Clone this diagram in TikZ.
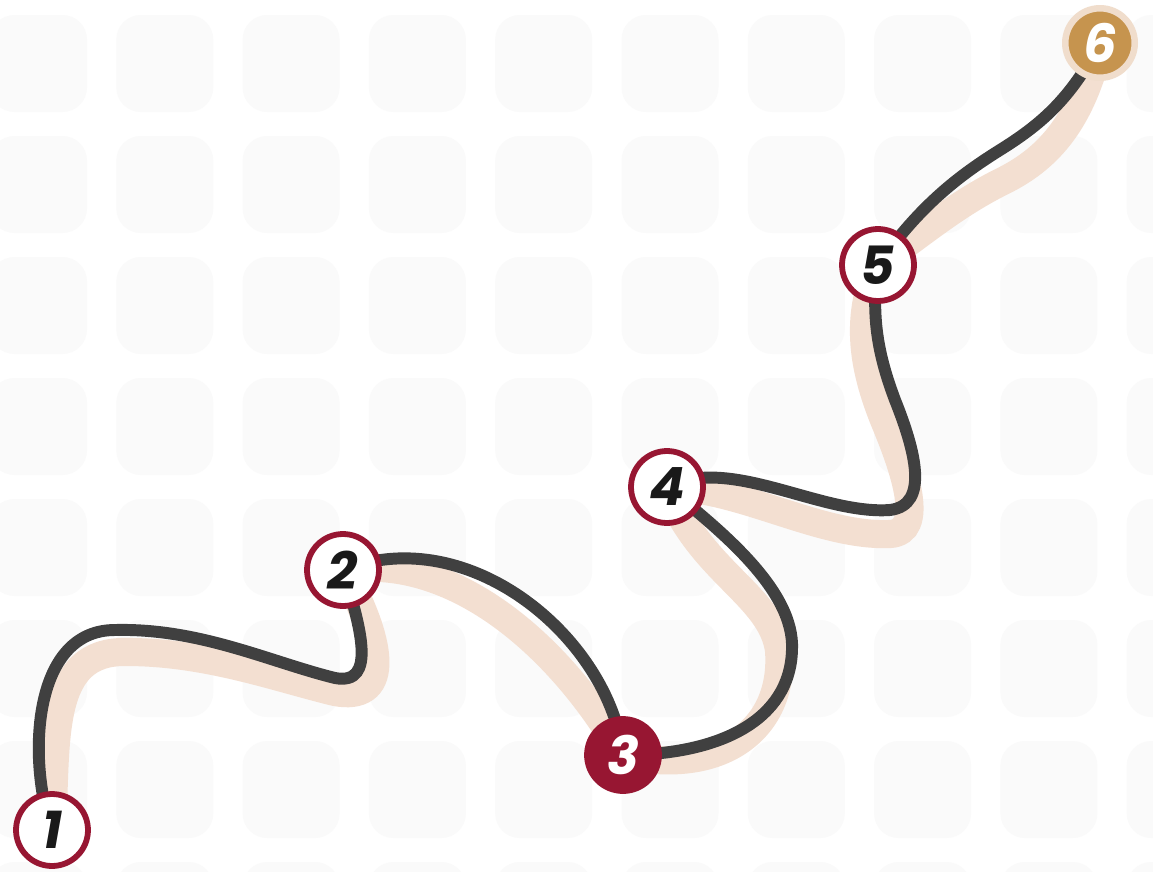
\documentclass[tikz,border=0pt]{standalone}
\usepackage{fontspec}
\newfontfamily\numfont{Poppins}
\usetikzlibrary{backgrounds}
\definecolor{crimson}{HTML}{971632}
\definecolor{trailGray}{HTML}{404040}
\definecolor{trailShade}{HTML}{F3DFD1}
\definecolor{goldTone}{HTML}{C6944E}
\definecolor{goldHalo}{HTML}{F0DDCC}
\definecolor{tileGray}{HTML}{FAFAFA}

\begin{document}
\begin{tikzpicture}[
    x=0.02cm, y=-0.02cm,
    milestone/.style={circle, draw=crimson, line width=3.3pt, fill=white, minimum size=1.44cm, inner sep=0pt,
      text=black!90, font=\numfont\bfseries\itshape\fontsize{30}{30}\selectfont},
    tile/.style={fill=tileGray, rounded corners=14pt},
    trail/.style={draw=trailGray, line width=6.8pt, line cap=round},
    shade/.style={draw=trailShade, line width=16pt, line cap=round}
  ]
  \useasboundingbox (0,0) rectangle (1153,872);

  % 节点在前景层，路径和底纹放到背景层
  \node[milestone] (n1) at (52,830) {1};
  \node[milestone] (n2) at (343,570) {2};
  \node[milestone, fill=crimson, text=white] (n3) at (623,755) {3};
  \node[milestone] (n4) at (667,487) {4};
  \node[milestone] (n5) at (878,265) {5};
  \node[milestone, draw=goldHalo, fill=goldTone, text=white, line width=3.7pt, minimum size=1.39cm] (n6) at (1100,43) {6};

  \begin{scope}[on background layer]
    \fill[white] (0,0) rectangle (1153,872);
    \foreach \i in {0,...,9}
      \foreach \j in {0,...,7}
        \fill[tile] ({-10+126.3*\i},{15+121*\j}) rectangle +(97,97);

    \draw[shade] (n1.center) .. controls (57,740) and (47,650) .. (127,652)
      .. controls (207,652) and (277,678) .. (335,692)
      .. controls (388,702) and (387,650) .. (n2.center)
      .. controls (450,552) and (558,642) .. (n3.center)
      .. controls (720,777) and (785,730) .. (779,650)
      .. controls (771,595) and (700,572) .. (n4.center)
      .. controls (740,487) and (820,537) .. (890,534)
      .. controls (926,532) and (905,470) .. (884,420)
      .. controls (864,370) and (854,320) .. (n5.center)
      .. controls (930,227) and (960,202) .. (1005,180)
      .. controls (1050,157) and (1082,120) .. (n6.center);

    \draw[trail] (n1.center) .. controls (28,765) and (30,630) .. (115,630)
      .. controls (200,628) and (270,662) .. (335,678)
      .. controls (378,686) and (360,625) .. (n2.center)
      .. controls (470,520) and (610,640) .. (n3.center)
      .. controls (720,755) and (790,720) .. (792,650)
      .. controls (795,590) and (720,530) .. (n4.center)
      .. controls (730,455) and (820,515) .. (890,510)
      .. controls (930,505) and (915,450) .. (895,400)
      .. controls (880,360) and (870,320) .. (n5.center)
      .. controls (920,205) and (960,175) .. (1000,150)
      .. controls (1040,125) and (1070,100) .. (n6.center);
  \end{scope}
\end{tikzpicture}
\end{document}
